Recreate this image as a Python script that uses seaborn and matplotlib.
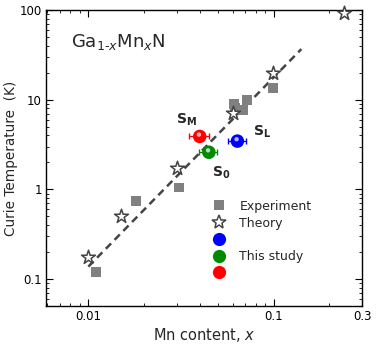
import numpy as np
import pandas as pd
import matplotlib
matplotlib.use("Agg")
import matplotlib.pyplot as plt
import seaborn as sns
from matplotlib.ticker import LogLocator, FixedLocator, FixedFormatter, NullFormatter
from matplotlib.lines import Line2D

sns.set_theme(style="white")
plt.rcParams['font.family'] = ['DejaVu Sans']

# Data
exp_x = [0.011, 0.018, 0.031, 0.061, 0.062, 0.068, 0.072, 0.099]
exp_y = [0.12, 0.75, 1.05, 9.0, 8.2, 7.7, 10.0, 13.6]
th_x = [0.010, 0.015, 0.030, 0.0605, 0.0995, 0.239]
th_y = [0.176, 0.50, 1.73, 7.1, 19.8, 93.0]
study_names = ["S_M", "S_0", "S_L"]
study_x = [0.0399, 0.0447, 0.0637]
study_y = [3.9, 2.6, 3.46]
study_xerr = [0.005, 0.005, 0.007]
study_colors = ["#ff0000", "#008a00", "#0000ff"]
fit_x = [0.0100, 0.141]
fit_y = [0.138, 36.7]

xticks = [0.01, 0.1, 0.3]
xticklabels = ["0.01", "0.1", "0.3"]
yticks = [0.1, 1, 10, 100]
yticklabels = ["0.1", "1", "10", "100"]

fig = plt.figure(figsize=(3.82, 3.46), dpi=100)
ax = fig.add_axes([0.12, 0.115, 0.828, 0.856])
ax.set_xscale('log')
ax.set_yscale('log')
ax.set_xlim(0.0059, 0.3)
ax.set_ylim(0.05, 100)

# fit line
sns.lineplot(x=fit_x, y=fit_y, ax=ax, color='#444444', lw=1.8, linestyle=(0, (3, 2)), zorder=2)

# experiment
df_exp = pd.DataFrame({'x': exp_x, 'y': exp_y})
sns.scatterplot(data=df_exp, x='x', y='y', ax=ax, marker='s', s=50, color='#808080',
                edgecolor='none', zorder=3, clip_on=False)
# theory
df_th = pd.DataFrame({'x': th_x, 'y': th_y})
sns.scatterplot(data=df_th, x='x', y='y', ax=ax, marker='*', s=110, facecolor='white',
                edgecolor='#444444', linewidth=1.1, zorder=4, clip_on=False)

# this study
for xx, yy, xe, c in zip(study_x, study_y, study_xerr, study_colors):
    ax.errorbar([xx], [yy], xerr=[xe], fmt='none', ecolor=c, elinewidth=0.9, capsize=2.5, zorder=5)
    ax.scatter([xx], [yy], s=95, color=c, edgecolor='none', zorder=6)
    ax.scatter([xx * 0.99], [yy * 1.05], s=10, color='white', alpha=0.7, edgecolor='none', zorder=7)

ax.text(0.034, 4.9, r"$\mathbf{S_M}$", fontsize=10, ha='center', va='bottom')
ax.text(0.077, 3.6, r"$\mathbf{S_L}$", fontsize=10, ha='left', va='bottom')
ax.text(0.052, 1.9, r"$\mathbf{S_0}$", fontsize=10, ha='center', va='top')

ax.text(0.0081, 44, r"Ga$_{1\text{-}x}$Mn$_x$N", fontsize=13, ha='left', va='center')

# ticks
ax.xaxis.set_major_locator(FixedLocator(xticks))
ax.xaxis.set_major_formatter(FixedFormatter(xticklabels))
ax.xaxis.set_minor_locator(LogLocator(base=10, subs=np.arange(2, 10)))
ax.xaxis.set_minor_formatter(NullFormatter())
ax.yaxis.set_major_locator(FixedLocator(yticks))
ax.yaxis.set_major_formatter(FixedFormatter(yticklabels))
ax.yaxis.set_minor_locator(LogLocator(base=10, subs=np.arange(2, 10)))
ax.yaxis.set_minor_formatter(NullFormatter())
ax.tick_params(which='both', direction='in', top=True, right=True, left=True, bottom=True,
               colors='black', labelsize=8.5)
ax.tick_params(which='major', length=5, width=0.8, pad=3)
ax.tick_params(which='minor', length=2.5, width=0.6)
for s in ax.spines.values():
    s.set_color('black')
    s.set_linewidth(1.0)

ax.set_xlabel(r"Mn content, $x$", fontsize=10.5, labelpad=2)
ax.set_ylabel("Curie Temperature  (K)", fontsize=9.8, labelpad=1)

# legend
handles = [
    Line2D([], [], marker='s', color='#808080', linestyle='none', markersize=6.5, markeredgewidth=0),
    Line2D([], [], marker='*', markerfacecolor='white', markeredgecolor='#444444', linestyle='none', markersize=10, markeredgewidth=1.1),
    Line2D([], [], marker='o', color=study_colors[2], linestyle='none', markersize=9.5, markeredgewidth=0),
    Line2D([], [], marker='o', color=study_colors[1], linestyle='none', markersize=9.5, markeredgewidth=0),
    Line2D([], [], marker='o', color=study_colors[0], linestyle='none', markersize=9.5, markeredgewidth=0),
]
labels = ["Experiment", "Theory", "", "This study", ""]
ax.legend(handles, labels, loc='lower left', bbox_to_anchor=(0.505, 0.068), frameon=False,
          fontsize=9, handletextpad=1.0, labelspacing=0.3, borderpad=0, handlelength=1.2)

fig.savefig("out.png", dpi=100)
